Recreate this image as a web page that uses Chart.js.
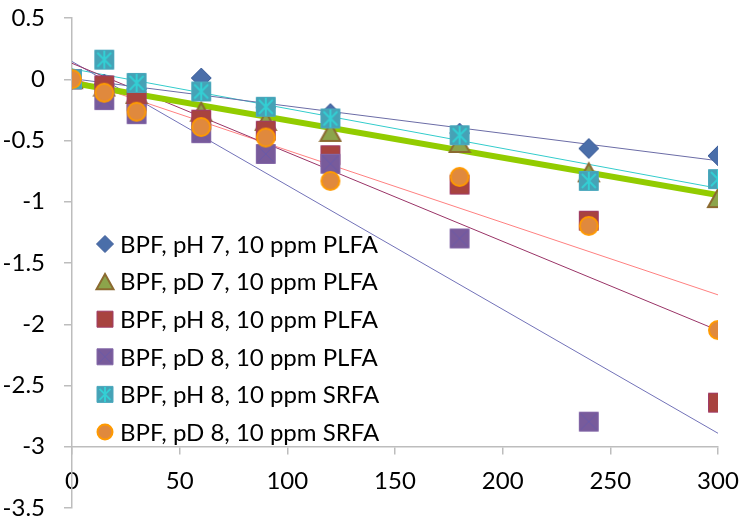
<!DOCTYPE html>
<html>
<head>
<meta charset="utf-8">
<script src="https://cdn.jsdelivr.net/npm/chart.js@4.4.1/dist/chart.umd.min.js"></script>
<style>
  body { margin: 0; background: #fff; }
</style>
</head>
<body>
<canvas id="chart" width="741" height="522"></canvas>
<script>
// sampling times
const times = [0, 15, 30, 60, 90, 120, 180, 240, 300];

const seriesNames = [
  "BPF, pH 7, 10 ppm PLFA",
  "BPF, pD 7, 10 ppm PLFA",
  "BPF, pH 8, 10 ppm PLFA",
  "BPF, pD 8, 10 ppm PLFA",
  "BPF, pH 8, 10 ppm SRFA",
  "BPF, pD 8, 10 ppm SRFA"
];

const ph7Plfa  = [0, -0.04, -0.08, 0.01, -0.23, -0.28, -0.44, -0.565, -0.625];
const pd7Plfa  = [0, -0.06, -0.12, -0.265, -0.34, -0.43, -0.52, -0.76, -0.97];
const ph8Plfa  = [0, -0.05, -0.18, -0.33, -0.42, -0.62, -0.86, -1.155, -2.64];
const pd8Plfa  = [0, -0.17, -0.285, -0.44, -0.61, -0.69, -1.30, -2.795, null];
const ph8Srfa  = [0, 0.16, -0.03, -0.10, -0.225, -0.32, -0.457, -0.83, -0.815];
const pd8Srfa  = [0, -0.11, -0.265, -0.39, -0.476, -0.83, -0.797, -1.197, -2.047];

// trend lines, value at t=0 and t=300
const trendX = [0, 300];
const ph7PlfaTrend = [0.005, -0.665];
const pd7PlfaTrend = [-0.03, -0.945];
const ph8PlfaTrend = [0.13, -2.05];
const pd8PlfaTrend = [0.145, -2.89];
const ph8SrfaTrend = [0.085, -0.89];
const pd8SrfaTrend = [0.01, -1.76];

const yMin = -3.5, yMax = 0.5, yStep = 0.5;
const xMin = 0, xMax = 300, xStep = 50;

const FONT = "Lato, 'Open Sans', sans-serif";

function drawMarker(ctx, kind, x, y, s) {
  const h = s / 2;
  ctx.save();
  ctx.beginPath();
  if (kind === 'diamond') {
    ctx.moveTo(x, y - h); ctx.lineTo(x + h, y); ctx.lineTo(x, y + h); ctx.lineTo(x - h, y);
    ctx.closePath();
    ctx.fillStyle = '#4a6ea9'; ctx.fill();
    ctx.strokeStyle = '#3f5e9a'; ctx.lineWidth = 1; ctx.stroke();
  } else if (kind === 'triangle') {
    const th = s * 0.45;
    ctx.moveTo(x, y - th); ctx.lineTo(x + h, y + th); ctx.lineTo(x - h, y + th);
    ctx.closePath();
    ctx.fillStyle = '#8ca44b'; ctx.fill();
    ctx.strokeStyle = '#8b6a30'; ctx.lineWidth = 2; ctx.stroke();
  } else if (kind === 'square') {
    ctx.rect(x - h + 0.5, y - h + 0.5, s - 1, s - 1);
    ctx.fillStyle = '#a8433f'; ctx.fill();
    ctx.strokeStyle = '#a03c68'; ctx.lineWidth = 1; ctx.stroke();
  } else if (kind === 'squareX') {
    ctx.rect(x - h + 0.5, y - h + 0.5, s - 1, s - 1);
    ctx.fillStyle = '#785b9b'; ctx.fill();
    ctx.strokeStyle = '#8468a8'; ctx.lineWidth = 1; ctx.stroke();
    ctx.beginPath();
    ctx.moveTo(x - h + 2, y - h + 2); ctx.lineTo(x + h - 2, y + h - 2);
    ctx.moveTo(x + h - 2, y - h + 2); ctx.lineTo(x - h + 2, y + h - 2);
    ctx.strokeStyle = '#6a5aa8'; ctx.lineWidth = 1; ctx.stroke();
  } else if (kind === 'squareStar') {
    ctx.rect(x - h + 0.5, y - h + 0.5, s - 1, s - 1);
    ctx.fillStyle = '#46a2b6'; ctx.fill();
    ctx.strokeStyle = '#4aa8bd'; ctx.lineWidth = 1; ctx.stroke();
    ctx.beginPath();
    ctx.moveTo(x - h + 3, y - h + 3); ctx.lineTo(x + h - 3, y + h - 3);
    ctx.moveTo(x + h - 3, y - h + 3); ctx.lineTo(x - h + 3, y + h - 3);
    ctx.moveTo(x, y - h + 1); ctx.lineTo(x, y + h - 1);
    ctx.strokeStyle = '#33cfd4'; ctx.lineWidth = 2; ctx.stroke();
  } else if (kind === 'circle') {
    ctx.arc(x, y, h - 1, 0, Math.PI * 2);
    ctx.fillStyle = '#e0893d'; ctx.fill();
    ctx.strokeStyle = '#ff9a00'; ctx.lineWidth = 2; ctx.stroke();
  }
  ctx.restore();
}

function markerCanvas(kind, s) {
  const c = document.createElement('canvas');
  c.width = s + 4; c.height = s + 4;
  drawMarker(c.getContext('2d'), kind, c.width / 2, c.height / 2, s);
  return c;
}

const markerKinds = ['diamond', 'triangle', 'square', 'squareX', 'squareStar', 'circle'];
const seriesValues = [ph7Plfa, pd7Plfa, ph8Plfa, pd8Plfa, ph8Srfa, pd8Srfa];
const trendValues = [ph7PlfaTrend, pd7PlfaTrend, ph8PlfaTrend, pd8PlfaTrend, ph8SrfaTrend, pd8SrfaTrend];
const trendColors = ['#6b6ca6', '#92cc00', '#993366', '#7272b8', '#33cccc', '#ff8080'];
const trendWidths = [1, 6, 1, 1, 1, 1];

function points(xs, ys) {
  return xs.map((x, i) => ({ x: x, y: ys[i] })).filter(p => p.y !== null);
}

const datasets = [];
trendValues.forEach((t, i) => {
  datasets.push({
    type: 'scatter',
    data: points(trendX, t),
    showLine: true,
    borderColor: trendColors[i],
    borderWidth: trendWidths[i],
    pointRadius: 0,
    order: 20 + i
  });
});
seriesValues.forEach((v, i) => {
  datasets.push({
    type: 'scatter',
    label: seriesNames[i],
    data: points(times, v),
    pointStyle: markerCanvas(markerKinds[i], 20),
    pointRadius: 10,
    order: 6 - i
  });
});

// legend sits inside the plot, bottom left
const insideLegend = {
  id: 'insideLegend',
  afterDatasetsDraw(chart) {
    const ctx = chart.ctx;
    ctx.save();
    ctx.font = "24px " + FONT;
    ctx.fillStyle = '#000';
    ctx.textBaseline = 'middle';
    seriesNames.forEach((name, i) => {
      const y = 244 + i * 37.6;
      drawMarker(ctx, markerKinds[i], 105, y, 17);
      ctx.fillText(name, 120, y + 1);
    });
    ctx.restore();
  }
};

new Chart(document.getElementById('chart'), {
  type: 'scatter',
  data: { datasets: datasets },
  plugins: [insideLegend],
  options: {
    responsive: false,
    animation: false,
    layout: { padding: { top: 18, bottom: 14, left: 0, right: 23 } },
    plugins: { legend: { display: false }, tooltip: { enabled: false } },
    scales: {
      x: {
        type: 'linear',
        min: xMin, max: xMax,
        position: { y: -3 },
        afterFit: s => { s.paddingLeft = 0; s.paddingRight = 0; },
        ticks: { stepSize: xStep, color: '#000', font: { size: 24, family: FONT }, padding: 13,
                 callback: v => String(v) },
        grid: { drawOnChartArea: false, tickLength: 7, color: '#bdbdbd', lineWidth: 1.5 },
        border: { color: '#bdbdbd', width: 1.5 }
      },
      y: {
        min: yMin, max: yMax,
        afterFit: s => { s.width = 72; s.paddingTop = 0; s.paddingBottom = 0; },
        ticks: { stepSize: yStep, color: '#000', font: { size: 24, family: FONT }, padding: 19,
                 callback: v => String(v) },
        grid: { drawOnChartArea: false, tickLength: 8, color: '#bdbdbd', lineWidth: 1.5 },
        border: { color: '#bdbdbd', width: 1.5 }
      }
    }
  }
});
</script>
</body>
</html>
